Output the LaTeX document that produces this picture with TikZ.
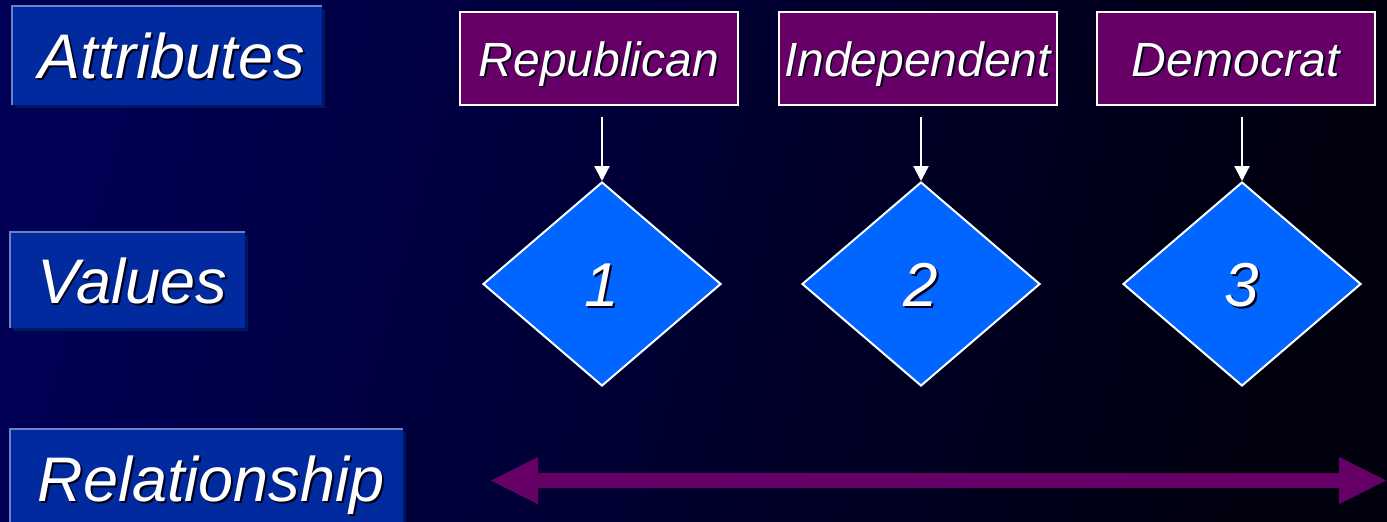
\documentclass[tikz,border=0pt]{standalone}
\usepackage{fontspec}
\setmainfont{Liberation Sans}
\usetikzlibrary{arrows.meta,shapes.geometric,shadows}
\definecolor{bgL}{RGB}{0,0,84}
\definecolor{bgR}{RGB}{0,0,14}
\definecolor{lblfill}{RGB}{0,42,158}
\definecolor{lblhi}{RGB}{110,128,200}
\definecolor{lblsh}{RGB}{0,22,96}
\definecolor{attrfill}{RGB}{102,0,102}
\definecolor{valfill}{RGB}{0,102,255}
\definecolor{txtsh}{RGB}{0,0,24}
\newcommand\shtxt[1]{\rlap{\kern1.8pt\raisebox{-1.8pt}{\textcolor{txtsh}{#1}}}#1}
\newcommand\lbltxt[1]{\kern9pt\shtxt{#1}}
\begin{document}
\begin{tikzpicture}[x=1pt,y=-1pt,
  lbl/.style={anchor=north west, fill=lblfill, inner sep=0pt, text=white,
    font=\itshape\fontsize{63}{63}\selectfont, text height=46pt, text depth=-4pt,
    general shadow={fill=lblsh, shadow xshift=3pt, shadow yshift=-3pt}},
  hilite/.style={draw=lblhi, line width=2pt},
  attr/.style={draw=white, line width=2pt, fill=attrfill, minimum width=278pt,
    minimum height=93pt, inner sep=0pt, text=white,
    font=\itshape\fontsize{48}{48}\selectfont, text height=35pt, text depth=0pt},
  val/.style={diamond, draw=white, line width=2pt, fill=valfill, minimum width=238pt,
    minimum height=204pt, inner sep=0pt, text=white,
    font=\itshape\fontsize{62}{62}\selectfont, text height=45pt, text depth=-3pt},
  link/.style={draw=white, line width=2.2pt, -{Triangle[width=15pt,length=15pt]}},
  rel/.style={draw=attrfill, line width=15pt,
    {Triangle[width=47pt,length=47pt,line width=0.1pt]}-{Triangle[width=47pt,length=47pt,line width=0.1pt]}}
]
\useasboundingbox (0,0) rectangle (1387,522);
\clip (0,0) rectangle (1387,522);
\shade[left color=bgL, right color=bgR, shading angle=75] (0,0) rectangle (1387,522);

% left labels
\node[lbl, minimum width=310pt, minimum height=99pt] (attrlbl) at (12,6) {\lbltxt{Attributes}};
\draw[hilite] (attrlbl.south west) -- (attrlbl.north west) -- (attrlbl.north east);
\node[lbl, minimum width=235pt, minimum height=96pt] (vallbl) at (10,232) {\lbltxt{Values}};
\draw[hilite] (vallbl.south west) -- (vallbl.north west) -- (vallbl.north east);
\node[lbl, minimum width=393pt, minimum height=98pt] (rellbl) at (10,429) {\lbltxt{Relationship}};
\draw[hilite] (rellbl.south west) -- (rellbl.north west) -- (rellbl.north east);

% attributes
\node[attr] (rep) at (599,58.5) {\shtxt{Republican}};
\node[attr] (ind) at (917.5,58.5) {\shtxt{Independent}};
\node[attr] (dem) at (1236,58.5) {\shtxt{Democrat}};

% values
\node[val] (v1) at (602,284) {\shtxt{1}};
\node[val] (v2) at (921,284) {\shtxt{2}};
\node[val] (v3) at (1242,284) {\shtxt{3}};

% links
\coordinate (s1) at (602,117);
\coordinate (s2) at (921,117);
\coordinate (s3) at (1242,117);
\draw[link] (s1) -- (v1.north);
\draw[link] (s2) -- (v2.north);
\draw[link] (s3) -- (v3.north);

% relationship arrow
\coordinate (rl) at (491,480.5);
\coordinate (rr) at (1386,480.5);
\draw[rel] (rl) -- (rr);
\end{tikzpicture}
\end{document}
